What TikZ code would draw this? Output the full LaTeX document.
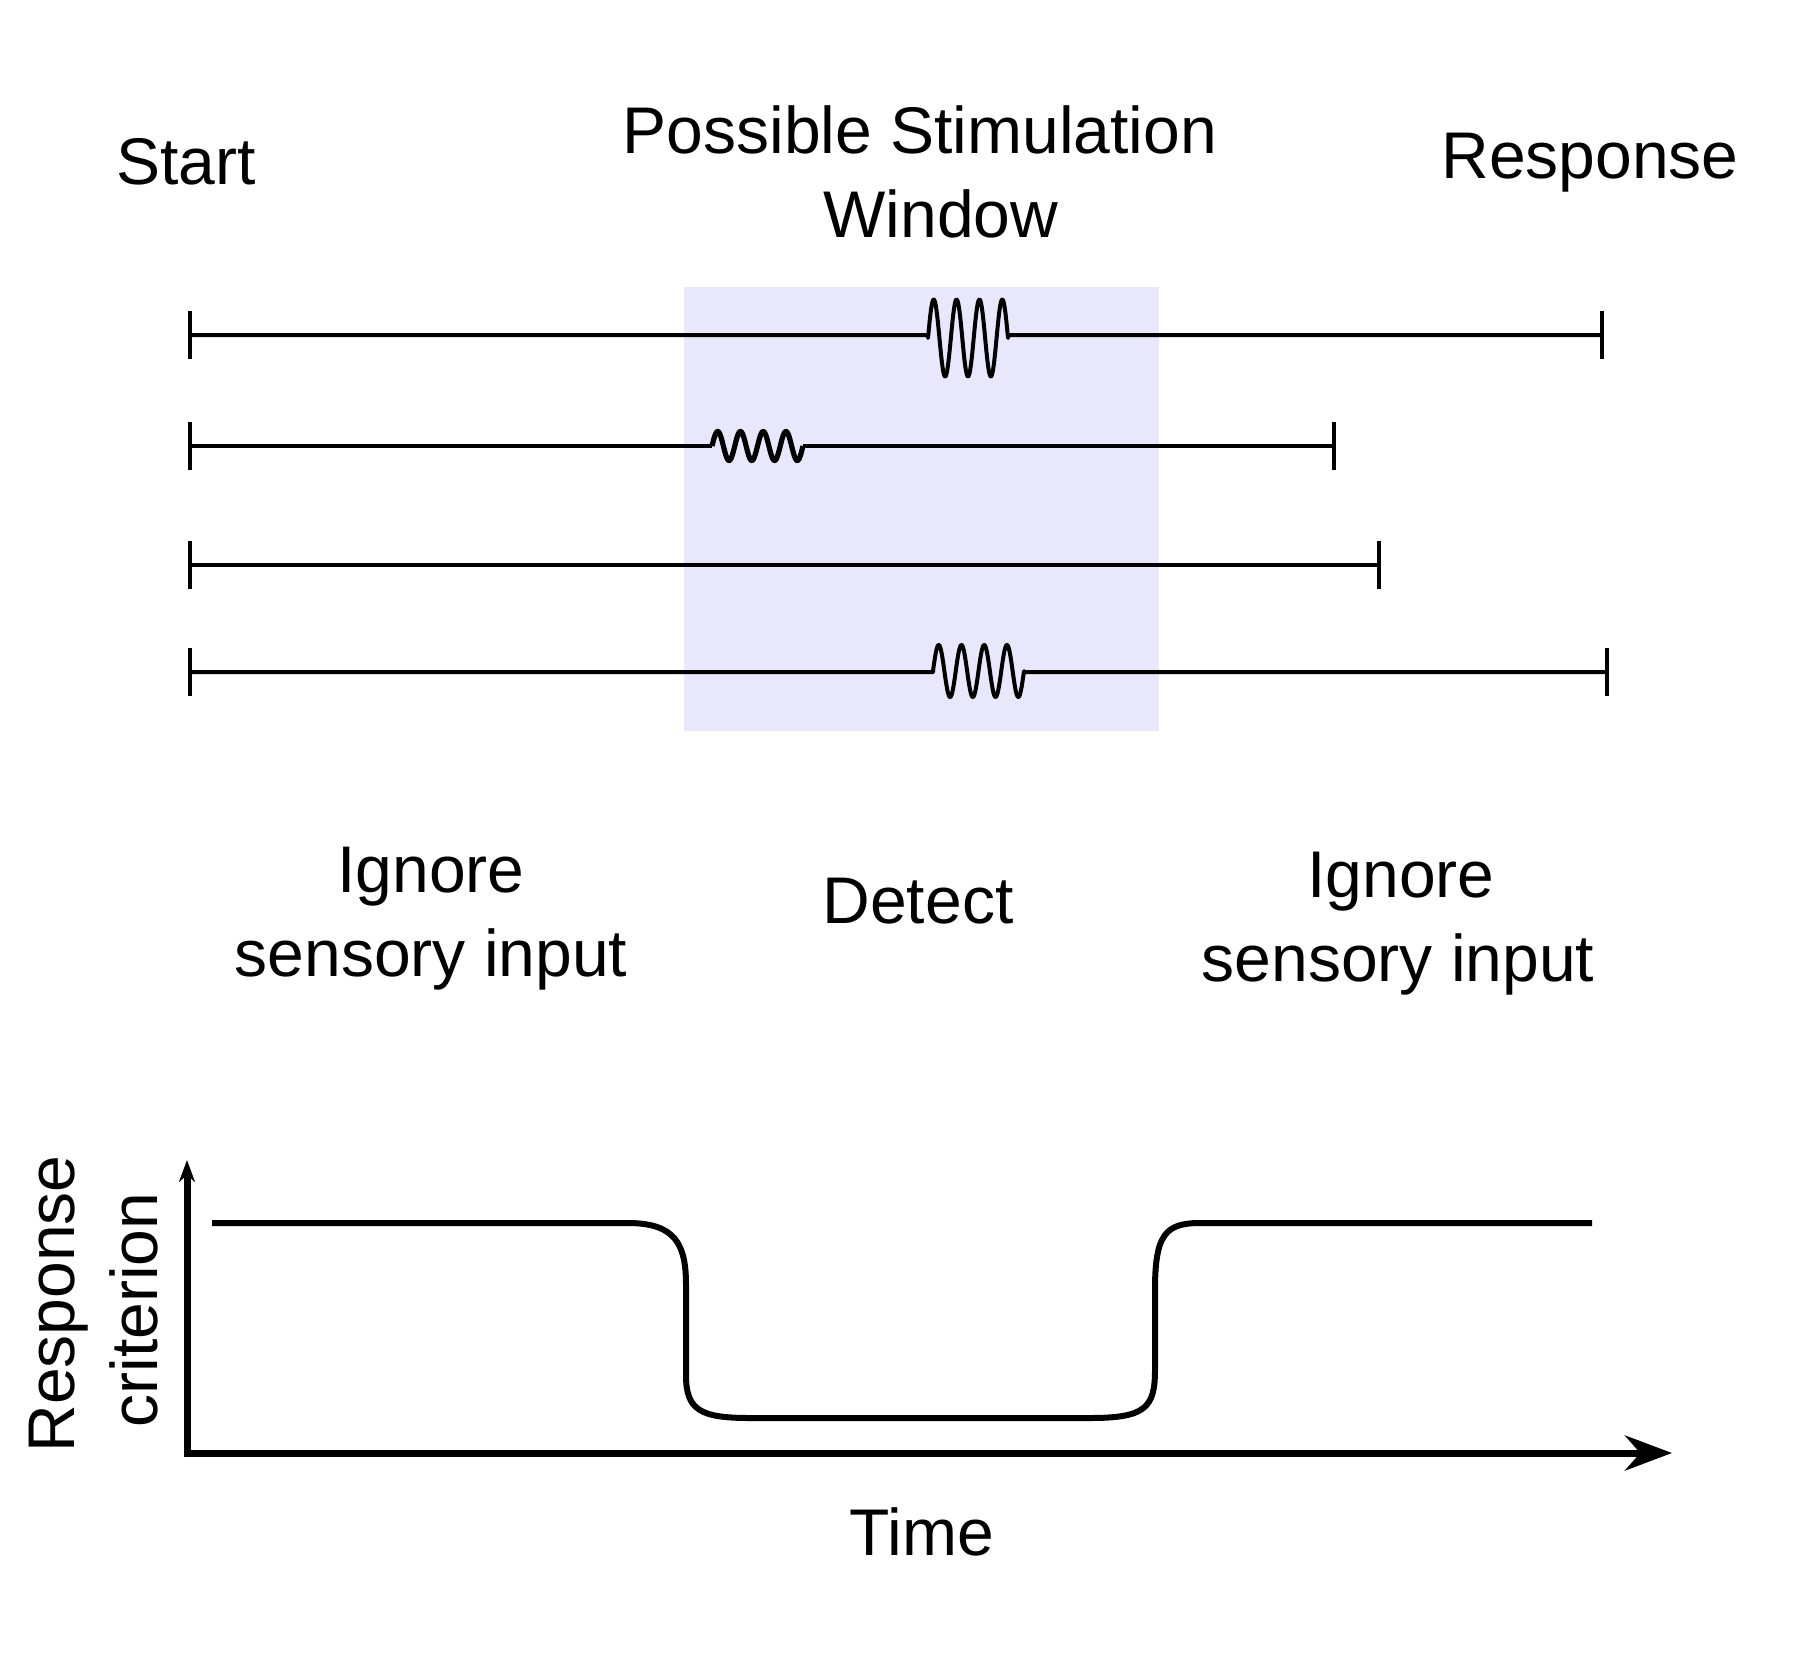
\documentclass[tikz,border=0pt]{standalone}
\usepackage{fontspec}
\setmainfont{Liberation Sans}
\usetikzlibrary{arrows.meta}
\definecolor{winfill}{RGB}{232,232,252}
\begin{document}
\begin{tikzpicture}[x=0.5pt,y=-0.5pt,
  lbl/.style={font=\fontsize{33}{40}\selectfont, inner sep=0pt, anchor=base},
  tline/.style={line width=2pt, line join=round},
  tickmark/.style={line width=2.2pt},
  axisline/.style={line width=3.5pt, line join=miter},
  critline/.style={line width=3pt, line join=round}]
\useasboundingbox (0,0) rectangle (1800,1666);
% stimulation window
\fill[winfill] (684,287) rectangle (1159,731);
% timelines
\coordinate (L1s) at (190,335);  \coordinate (L1e) at (1602,335);
\coordinate (L2s) at (190,446);  \coordinate (L2e) at (1334,446);
\coordinate (L3s) at (190,565);  \coordinate (L3e) at (1379,565);
\coordinate (L4s) at (190,672);  \coordinate (L4e) at (1607,672);
\draw[tline] (L1s) -- (928,335) -- (928,338)
  -- plot[domain=0:80, samples=161] ({928+\x},{338-38.5*sin(\x*15.75)})
  -- (1008,335) -- (L1e);
\draw[tline] (L2s) -- (712,446);
\draw[tline, line width=2.6pt] (712,446)
  -- plot[domain=0:91, samples=181] ({712+\x},{446-14.5*sin(\x*15.824)})
  -- (803,446);
\draw[tline] (803,446) -- (L2e);
\draw[tline] (L3s) -- (L3e);
\draw[tline] (L4s) -- (933,672)
  -- plot[domain=0:91, samples=181] ({933+\x},{671-26*sin(\x*15.824)})
  -- (1024,672) -- (L4e);
\foreach \p in {L1s,L1e,L2s,L2e,L3s,L3e,L4s,L4e}
  \draw[tickmark] (\p) ++(0,-24) -- ++(0,48);
% labels
\node[lbl] (start) at (186,184) {Start};
\node[lbl] (psw1) at (920,153) {Possible Stimulation};
\node[lbl] (psw2) at (941,237) {Window};
\node[lbl] (resp) at (1590,178) {Response};
\node[lbl] (ign1a) at (431,892) {Ignore};
\node[lbl] (ign1b) at (431,976) {sensory input};
\node[lbl] (det) at (918,923) {Detect};
\node[lbl] (ign2a) at (1401,897) {Ignore};
\node[lbl] (ign2b) at (1398,981) {sensory input};
\node[lbl] (time) at (922,1555) {Time};
\node[lbl, rotate=90] (ylab1) at (75,1304) {Response};
\node[lbl, rotate=90] (ylab2) at (157,1310) {criterion};
% axes
\coordinate (ytip) at (187,1160);
\coordinate (orig) at (187,1453);
\coordinate (xtip) at (1672,1453);
\draw[axisline, {Stealth[length=11pt,width=8pt]}-{Stealth[length=23.5pt,width=17.5pt]}]
  (ytip) -- (orig) -- (xtip);
% response criterion curve
\coordinate (cs) at (212,1223);
\coordinate (ce) at (1592,1223);
\draw[critline] (cs) -- (628,1223)
  .. controls (676,1223) and (686,1245) .. (686,1285)
  -- (686,1375)
  .. controls (686,1410) and (700,1418) .. (750,1418)
  -- (1090,1418)
  .. controls (1145,1418) and (1155,1408) .. (1155,1370)
  -- (1155,1290)
  .. controls (1155,1235) and (1165,1223) .. (1200,1223)
  -- (ce);
\end{tikzpicture}
\end{document}
